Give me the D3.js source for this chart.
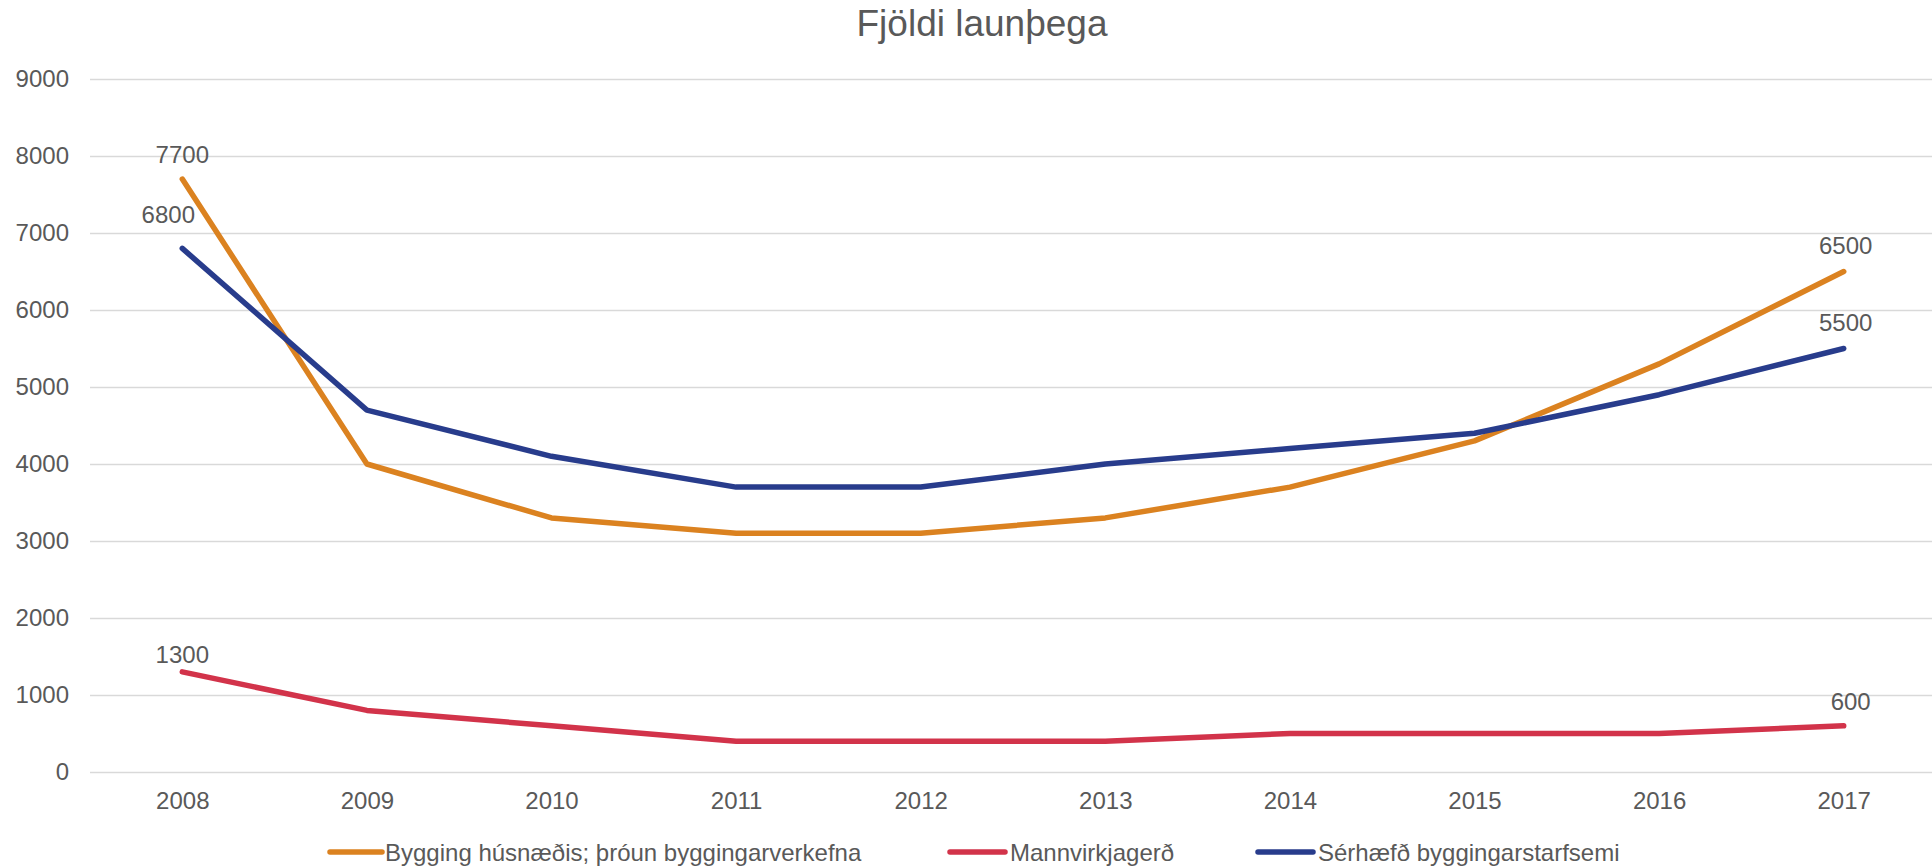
<!DOCTYPE html>
<html>
<head>
<meta charset="utf-8">
<script src="https://cdn.jsdelivr.net/npm/d3@7/dist/d3.min.js"></script>
<style>
  html, body { margin: 0; padding: 0; background: #fff; }
  svg { display: block; font-family: "Liberation Sans", Arial, sans-serif; }
</style>
</head>
<body>
<svg id="chart" width="1932" height="868"></svg>
<script>
// ---- data ----
const title = "Fjöldi launþega";
const years = ["2008","2009","2010","2011","2012","2013","2014","2015","2016","2017"];
const seriesNames = ["Bygging húsnæðis; þróun byggingarverkefna", "Mannvirkjagerð", "Sérhæfð byggingarstarfsemi"];
const byggingHusnaedis = [7700, 4000, 3300, 3100, 3100, 3300, 3700, 4300, 5300, 6500];
const mannvirkjagerd   = [1300,  800,  600,  400,  400,  400,  500,  500,  500,  600];
const serhaefd         = [6800, 4700, 4100, 3700, 3700, 4000, 4200, 4400, 4900, 5500];
const yTicks = [0, 1000, 2000, 3000, 4000, 5000, 6000, 7000, 8000, 9000];

// ---- styling ----
const colors = ["#DB8220", "#D2334A", "#283C8C"];
const seriesValues = [byggingHusnaedis, mannvirkjagerd, serhaefd];
// which points carry data labels, with their pixel offsets from the point
const labelSpecs = [
  {s: 0, i: 0, dx: 0,   dy: -16},
  {s: 0, i: 9, dx: 2,   dy: -18},
  {s: 2, i: 0, dx: -14, dy: -25},
  {s: 2, i: 9, dx: 2,   dy: -18},
  {s: 1, i: 0, dx: 0,   dy: -9},
  {s: 1, i: 9, dx: 7,   dy: -16}
];
const legendPos = [
  {x1: 330, x2: 382, tx: 385},
  {x1: 950, x2: 1005, tx: 1010},
  {x1: 1258, x2: 1313, tx: 1318}
];

const svg = d3.select("#chart");
const plotLeft = 90, plotRight = 1936, plotTop = 79, plotBottom = 772;
const textColor = "#595959";
const fs = 24;

const x = d3.scalePoint().domain(years).range([plotLeft, plotRight]).padding(0.5);
const y = d3.scaleLinear().domain([0, 9000]).range([plotBottom, plotTop]);

// title
svg.append("text")
  .attr("x", 982).attr("y", 36)
  .attr("text-anchor", "middle")
  .attr("font-size", 37)
  .attr("fill", textColor)
  .text(title);

// y axis: gridlines + labels
const yAxis = d3.axisLeft(y).tickValues(yTicks).tickSize(-(plotRight - plotLeft)).tickPadding(21).tickFormat(d3.format("d"));
const gy = svg.append("g").attr("transform", `translate(${plotLeft},0)`).call(yAxis);
gy.select(".domain").remove();
gy.selectAll(".tick line").attr("stroke", "#d9d9d9").attr("stroke-width", 1.5);
gy.selectAll(".tick text").attr("fill", textColor).attr("font-size", fs)
  .attr("font-family", "Liberation Sans, Arial, sans-serif");

// x axis
const xAxis = d3.axisBottom(x).tickSize(0).tickPadding(20);
const gx = svg.append("g").attr("transform", `translate(0,${plotBottom})`).call(xAxis);
gx.select(".domain").remove();
gx.selectAll(".tick text").attr("fill", textColor).attr("font-size", fs)
  .attr("font-family", "Liberation Sans, Arial, sans-serif");

// lines
const line = d3.line().x((d, i) => x(years[i])).y(d => y(d));
seriesValues.forEach((vals, s) => {
  svg.append("path")
    .datum(vals)
    .attr("d", line)
    .attr("fill", "none")
    .attr("stroke", colors[s])
    .attr("stroke-width", 5.5)
    .attr("stroke-linecap", "round")
    .attr("stroke-linejoin", "round");
});

// data labels
svg.append("g").selectAll("text").data(labelSpecs).join("text")
  .attr("x", d => x(years[d.i]) + d.dx)
  .attr("y", d => y(seriesValues[d.s][d.i]) + d.dy)
  .attr("text-anchor", "middle")
  .attr("font-size", fs)
  .attr("fill", textColor)
  .text(d => seriesValues[d.s][d.i]);

// legend
const lg = svg.append("g");
seriesNames.forEach((name, s) => {
  const p = legendPos[s];
  lg.append("line")
    .attr("x1", p.x1).attr("x2", p.x2).attr("y1", 852).attr("y2", 852)
    .attr("stroke", colors[s]).attr("stroke-width", 5.5).attr("stroke-linecap", "round");
  lg.append("text")
    .attr("x", p.tx).attr("y", 861)
    .attr("font-size", fs)
    .attr("fill", textColor)
    .text(name);
});
</script>
</body>
</html>
